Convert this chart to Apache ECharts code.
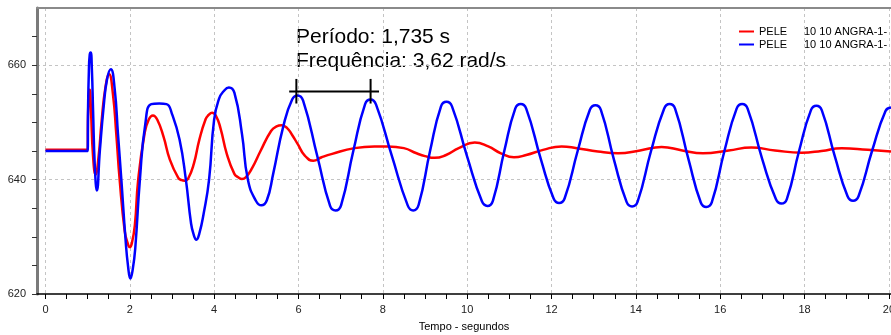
<!DOCTYPE html>
<html>
<head>
<meta charset="utf-8">
<script src="https://cdn.jsdelivr.net/npm/echarts@6/dist/echarts.min.js"></script>
<style>
  html, body { margin: 0; padding: 0; background: #fff; }
  #chart { width: 891px; height: 335px; }
</style>
</head>
<body>
<div id="chart"></div>
<script>
// tempo (s) e valores
const timeRed = [0, 1.0, 1.01, 1.03, 1.05, 1.08, 1.13, 1.19, 1.26, 1.33, 1.42, 1.51, 1.60, 1.68, 1.76, 1.88, 1.95, 2.00, 2.05, 2.12, 2.20, 2.35, 2.45, 2.55, 2.65, 2.80, 2.95, 3.15, 3.23, 3.30, 3.38, 3.52, 3.65, 3.80, 3.87, 3.95, 4.04, 4.15, 4.30, 4.48, 4.57, 4.66, 4.75, 4.90, 5.10, 5.35, 5.48, 5.60, 5.72, 5.85, 5.99, 6.15, 6.35, 6.55, 6.80, 7.33, 7.80, 8.12, 8.50, 8.80, 9.00, 9.23, 9.50, 9.80, 10.18, 10.50, 10.80, 11.11, 11.40, 11.80, 12.24, 12.60, 13.10, 13.58, 14.10, 14.61, 15.10, 15.59, 16.20, 16.74, 17.30, 17.93, 18.40, 18.88, 19.50, 20.05]
const valRed = [645.2, 645.2, 651, 655, 655.7, 652, 644, 640.9, 644, 650, 656, 658.4, 655, 648, 640, 631, 628.9, 628.2, 628.9, 632, 640, 648, 650.5, 651.2, 650.5, 647.5, 643.5, 640.3, 639.9, 639.8, 640.1, 642.8, 647, 650.6, 651.3, 651.7, 651.2, 649, 644.5, 641, 640.4, 640.1, 640.4, 642, 645, 648.5, 649.3, 649.5, 649.1, 647.8, 646.1, 644.2, 643.3, 643.9, 644.5, 645.5, 645.8, 645.8, 645.5, 644.6, 644.1, 643.8, 644.3, 645.5, 646.5, 645.8, 644.6, 643.9, 644.3, 645.2, 645.8, 645.5, 644.9, 644.6, 645.1, 645.7, 645.1, 644.6, 645.1, 645.6, 645.1, 644.7, 645.0, 645.5, 645.2, 644.9]

const timeBlue = [0, 1.0, 1.01, 1.03, 1.05, 1.074, 1.10, 1.13, 1.17, 1.22, 1.29, 1.38, 1.46, 1.55, 1.64, 1.72, 1.80, 1.90, 1.96, 2.015, 2.07, 2.13, 2.24, 2.37, 2.51, 2.70, 2.87, 3.00, 3.18, 3.33, 3.45, 3.51, 3.58, 3.65, 3.75, 3.88, 4.00, 4.12, 4.22, 4.35, 4.48, 4.66, 4.80, 4.99, 5.12, 5.25, 5.40, 5.64, 5.85, 5.98, 6.11, 6.45, 6.75, 6.88, 7.01, 7.30, 7.58, 7.71, 7.84, 8.22, 8.59, 8.72, 8.85, 9.12, 9.38, 9.51, 9.64, 10.0, 10.35, 10.48, 10.61, 10.88, 11.14, 11.27, 11.40, 11.75, 12.05, 12.18, 12.31, 12.62, 12.91, 13.04, 13.17, 13.48, 13.78, 13.91, 14.04, 14.36, 14.67, 14.80, 14.93, 15.25, 15.54, 15.67, 15.80, 16.10, 16.39, 16.52, 16.65, 17.0, 17.32, 17.45, 17.58, 17.87, 18.15, 18.28, 18.41, 18.72, 19.02, 19.15, 19.28, 19.60, 19.92, 20.05]
const valBlue = [645.0, 645.0, 652, 659, 661.8, 662.2, 659.5, 652, 642.5, 638.1, 645, 652.7, 657.5, 659.3, 656, 648, 640, 629.5, 624.8, 622.7, 624.3, 628, 640, 649.8, 653.2, 653.3, 653.2, 651.5, 647, 640, 632.5, 630.5, 629.5, 630.6, 634, 640, 650.5, 654.2, 655.4, 656.1, 655.2, 648, 640, 636.3, 635.5, 636.4, 641, 649.3, 654.0, 654.7, 653.8, 644, 635.4, 634.6, 635.5, 645, 653.2, 654.0, 653.1, 644, 635.5, 634.6, 635.6, 645, 652.8, 653.6, 652.8, 644, 636.2, 635.4, 636.3, 645, 652.4, 653.2, 652.4, 643.5, 636.7, 635.9, 636.7, 645, 652.2, 653.0, 652.2, 643.5, 636.1, 635.3, 636.1, 645, 652.4, 653.2, 652.4, 643.5, 636.0, 635.2, 636.0, 645, 652.4, 653.2, 652.4, 643.5, 636.6, 635.8, 636.6, 645, 652.1, 652.9, 652.1, 644, 637.1, 636.3, 637.1, 645, 652.0, 652.6]

// marcação do período (em coordenadas do gráfico)
const periodBar = [[5.78, 655.4], [7.91, 655.4]]
const periodTick1 = [[5.95, 657.6], [5.95, 653.3]]
const periodTick2 = [[7.71, 657.6], [7.71, 653.3]]

const seriesNames = ['PELE|10 10 ANGRA-1-|1', 'PELE|10 10 ANGRA-1-|2']
const xLabels = [0, 2, 4, 6, 8, 10, 12, 14, 16, 18, 20]
const xTicks = []
for (let i = 0; i <= 40; i++) xTicks.push(i * 0.5)
const yLabels = [620, 640, 660]
const yTicks = [620, 625, 630, 635, 640, 645, 650, 655, 660, 665]
const yGrid = [640, 660]

const zip = (t, v) => t.map((x, i) => [x, v[i]])

const chart = echarts.init(document.getElementById('chart'), null, { renderer: 'canvas' })

const labelFont = "'Liberation Sans', Arial, sans-serif"
const dashed = { show: true, lineStyle: { color: '#c4c4c4', type: [3, 3], width: 1 } }

const option = {
  animation: false,
  grid: { left: 37, right: 0, top: 8, bottom: 41, outerBoundsMode: 'none' },
  legend: {
    orient: 'vertical',
    left: 739,
    top: 26,
    padding: 0,
    itemWidth: 15,
    itemHeight: 2,
    itemGap: 2,
    icon: 'rect',
    data: seriesNames,
    formatter: (name) => {
      const p = name.split('|')
      return '{a|' + p[0] + '}{b|' + p[1] + '}'
    },
    textStyle: {
      fontFamily: labelFont,
      fontSize: 11,
      color: '#000',
      rich: { a: { width: 45, fontSize: 11 }, b: { fontSize: 11 } }
    }
  },
  xAxis: [
    {
      type: 'value',
      min: -0.2,
      max: 20.05,
      position: 'bottom',
      name: 'Tempo - segundos',
      nameLocation: 'middle',
      nameGap: 27,
      nameTextStyle: { fontFamily: labelFont, fontSize: 11, color: '#000' },
      axisLine: { show: true, onZero: false, lineStyle: { color: '#000', width: 1.5 } },
      axisTick: { show: true, length: 5, customValues: xTicks, lineStyle: { color: '#000' } },
      axisLabel: { customValues: xLabels, margin: 10, fontFamily: labelFont, fontSize: 11, color: '#222' },
      splitLine: { show: false }
    },
    {
      type: 'value',
      min: -0.2,
      max: 20.05,
      position: 'top',
      axisLine: { show: true, onZero: false, lineStyle: { color: '#8a8a8a', width: 2 } },
      axisTick: { show: false, customValues: xLabels },
      axisLabel: { show: false },
      splitLine: dashed
    }
  ],
  yAxis: [
    {
      type: 'value',
      min: 620,
      max: 670,
      position: 'left',
      axisLine: { show: true, onZero: false, lineStyle: { color: '#7a7a7a', width: 3 } },
      axisTick: { show: true, length: 5, customValues: yTicks, lineStyle: { color: '#333' } },
      axisLabel: { customValues: yLabels, margin: 11, fontFamily: labelFont, fontSize: 11, color: '#222' },
      splitLine: { show: false }
    },
    {
      type: 'value',
      min: 620,
      max: 670,
      position: 'right',
      axisLine: { show: false },
      axisTick: { show: false, customValues: yGrid },
      axisLabel: { show: false },
      splitLine: dashed
    }
  ],
  graphic: [
    {
      type: 'text',
      left: 296,
      top: 25,
      silent: true,
      style: {
        text: 'Período: 1,735 s\nFrequência: 3,62 rad/s',
        font: "21px 'Liberation Sans', Arial, sans-serif",
        lineHeight: 24,
        fill: '#000'
      }
    }
  ],
  series: [
    {
      name: seriesNames[0],
      type: 'line',
      data: zip(timeRed, valRed),
      smooth: 0.5,
      showSymbol: false,
      lineStyle: { color: '#ff0000', width: 2.5 },
      itemStyle: { color: '#ff0000' }
    },
    {
      name: seriesNames[1],
      type: 'line',
      data: zip(timeBlue, valBlue),
      smooth: 0.5,
      showSymbol: false,
      lineStyle: { color: '#0000ff', width: 2.5 },
      itemStyle: { color: '#0000ff' }
    },
    ...[periodBar, periodTick1, periodTick2].map(d => ({
      type: 'line',
      data: d,
      showSymbol: false,
      silent: true,
      lineStyle: { color: '#000', width: 2 }
    }))
  ]
}

chart.setOption(option)
</script>
</body>
</html>
